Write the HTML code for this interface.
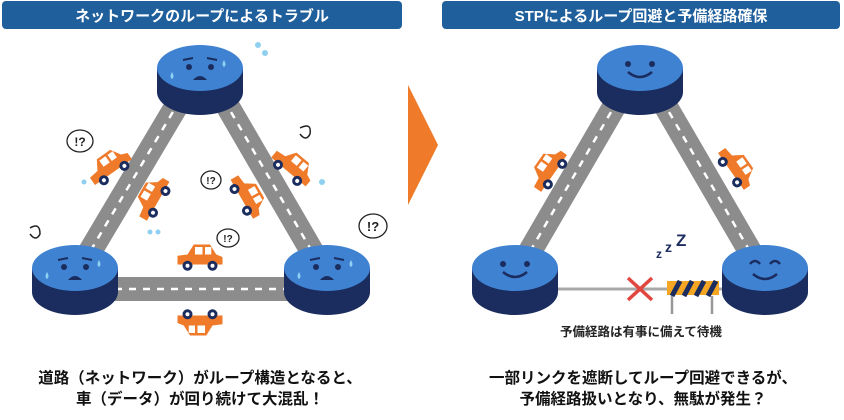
<!DOCTYPE html>
<html><head><meta charset="utf-8"><style>
html,body{margin:0;padding:0;background:#fff;width:844px;height:420px;overflow:hidden}
svg{display:block}
text{font-family:"Liberation Sans","Noto Sans CJK JP",sans-serif;font-weight:bold}
</style></head><body>
<svg width="844" height="420" viewBox="0 0 844 420" xmlns="http://www.w3.org/2000/svg">
<defs>
<g id="node">
<path d="M-43,0 L-43,24 A43,23 0 0 0 43,24 L43,0 Z" fill="#1b2c5e"/>
<ellipse cx="0" cy="0" rx="43" ry="23" fill="#3f82d2"/>
</g>
<g id="sad">
<circle cx="-11" cy="-1" r="3" fill="#1b2c5e"/><circle cx="11" cy="-1" r="3" fill="#1b2c5e"/>
<path d="M-17,-8 L-7,-10 M17,-8 L7,-10" stroke="#1b2c5e" stroke-width="2" fill="none"/>
<path d="M-7,12 Q0,4 7,12 Z" fill="#1b2c5e"/>
<path d="M-28,4 q-3,5 0,7 q3,-2 0,-7z" fill="#8fd0f0"/>
<path d="M24,-8 q-3,5 0,7 q3,-2 0,-7z" fill="#8fd0f0"/>
</g>
<g id="happy">
<circle cx="-12" cy="-4" r="3" fill="#1b2c5e"/><circle cx="12" cy="-4" r="3" fill="#1b2c5e"/>
<path d="M-12,4 Q0,14 12,4" stroke="#1b2c5e" stroke-width="2.5" fill="none"/>
</g>
<g id="car">
<g transform="scale(1.25)">
<path d="M-18,2 L-18,-5 L-10,-6 L-5,-14 L8,-14 L13,-6 L18,-4 L18,2 Z" fill="#ee7a2a"/>
<rect x="-4" y="-12" width="6" height="6" fill="#fff"/><rect x="4" y="-12" width="5" height="6" fill="#fff"/>
<circle cx="-10" cy="3" r="4" fill="#1b2c5e"/><circle cx="-10" cy="3" r="1.6" fill="#fff"/>
<circle cx="10" cy="3" r="4" fill="#1b2c5e"/><circle cx="10" cy="3" r="1.6" fill="#fff"/>
</g>
</g>
</defs>

<rect x="2" y="1" width="400" height="28" rx="4" fill="#1f5f9c"/>
<text x="202" y="21" font-size="15" fill="#fff" text-anchor="middle">ネットワークのループによるトラブル</text>
<rect x="442" y="1" width="398" height="28" rx="4" fill="#1f5f9c"/>
<text x="641" y="21" font-size="15" fill="#fff" text-anchor="middle">STPによるループ回避と予備経路確保</text>

<path d="M408,85 L438,145 L408,205 Z" fill="#ee7a2a"/>

<g stroke="#8c8c8c" stroke-width="24">
<line x1="180" y1="100" x2="85" y2="260"/>
<line x1="224" y1="100" x2="317" y2="260"/>
<line x1="100" y1="289" x2="300" y2="289"/>
</g>
<g stroke="#fff" stroke-width="2.5" stroke-dasharray="7 7">
<line x1="180" y1="100" x2="85" y2="260"/>
<line x1="224" y1="100" x2="317" y2="260"/>
<line x1="115" y1="289" x2="290" y2="289"/>
</g>
<use href="#node" x="200" y="68"/><use href="#sad" x="200" y="68"/>
<use href="#node" x="75" y="268"/><use href="#sad" x="75" y="268"/>
<use href="#node" x="327" y="268"/><use href="#sad" x="327" y="268"/>
<use href="#car" transform="translate(112,170) rotate(-35)"/>
<use href="#car" transform="translate(156,200) rotate(-60)"/>
<use href="#car" transform="translate(290,170) rotate(40)"/>
<use href="#car" transform="translate(244,198) rotate(60)"/>
<use href="#car" transform="translate(200,262)"/>
<use href="#car" transform="translate(200,318) rotate(180)"/>
<g fill="#fff" stroke="#222" stroke-width="1.3">
<ellipse cx="80" cy="141" rx="13" ry="11"/><ellipse cx="228" cy="238" rx="11" ry="9"/>
<ellipse cx="373" cy="226" rx="14" ry="12"/><ellipse cx="211" cy="180" rx="10" ry="9"/>
</g>
<text x="80" y="146" font-size="12" text-anchor="middle" fill="#222">!?</text>
<text x="228" y="242" font-size="10" text-anchor="middle" fill="#222">!?</text>
<text x="373" y="231" font-size="13" text-anchor="middle" fill="#222">!?</text>
<text x="211" y="184" font-size="10" text-anchor="middle" fill="#222">!?</text>
<path d="M300,128 q12,-6 10,6 q-4,8 -10,0" stroke="#222" fill="none" stroke-width="1.5"/>
<path d="M30,228 q10,-6 10,6 q-4,8 -10,0" stroke="#222" fill="none" stroke-width="1.5"/>
<g fill="#8fd0f0"><circle cx="258" cy="45" r="3"/><circle cx="265" cy="53" r="3"/><circle cx="322" cy="182" r="3"/><circle cx="150" cy="232" r="2.5"/><circle cx="158" cy="232" r="2.5"/><circle cx="84" cy="182" r="2.5"/></g>

<g stroke="#8c8c8c" stroke-width="24">
<line x1="618" y1="100" x2="525" y2="260"/>
<line x1="662" y1="100" x2="755" y2="260"/>
</g>
<g stroke="#fff" stroke-width="2.5" stroke-dasharray="7 7">
<line x1="618" y1="100" x2="525" y2="260"/>
<line x1="662" y1="100" x2="755" y2="260"/>
</g>
<line x1="550" y1="289" x2="730" y2="289" stroke="#a8a8a8" stroke-width="3"/>
<use href="#node" x="640" y="68"/><use href="#happy" x="640" y="68"/>
<use href="#node" x="515" y="268"/><use href="#happy" x="515" y="268"/>
<use href="#node" x="765" y="268"/>
<g stroke="#1b2c5e" stroke-width="2.5" fill="none"><path d="M750,264 q5,-6 10,0 M770,264 q5,-6 10,0 M753,274 Q765,284 777,274"/></g>
<use href="#car" transform="translate(552,172) rotate(-55)"/>
<use href="#car" transform="translate(733,170) rotate(55)"/>
<path d="M628,278 L652,300 M652,278 L628,300" stroke="#e2473f" stroke-width="3.5"/>
<rect x="667" y="281" width="52" height="14" fill="#f5a623"/>
<g stroke="#1b2c5e" stroke-width="5"><line x1="672" y1="296" x2="680" y2="281"/><line x1="684" y1="296" x2="692" y2="281"/><line x1="696" y1="296" x2="704" y2="281"/><line x1="708" y1="296" x2="716" y2="281"/></g>
<g stroke="#999" stroke-width="2.5"><line x1="672" y1="296" x2="672" y2="314"/><line x1="712" y1="296" x2="712" y2="314"/></g>
<text x="656" y="258" font-size="12" fill="#1b2c5e">z</text><text x="665" y="252" font-size="14" fill="#1b2c5e">z</text><text x="676" y="246" font-size="17" fill="#1b2c5e">Z</text>
<text x="641" y="336" font-size="12.5" fill="#222" text-anchor="middle">予備経路は有事に備えて待機</text>

<text x="200" y="383" font-size="15.5" fill="#111" text-anchor="middle">道路（ネットワーク）がループ構造となると、</text>
<text x="200" y="404" font-size="15.5" fill="#111" text-anchor="middle">車（データ）が回り続けて大混乱！</text>
<text x="643" y="383" font-size="15.5" fill="#111" text-anchor="middle">一部リンクを遮断してループ回避できるが、</text>
<text x="643" y="404" font-size="15.5" fill="#111" text-anchor="middle">予備経路扱いとなり、無駄が発生？</text>
</svg>
</body></html>
